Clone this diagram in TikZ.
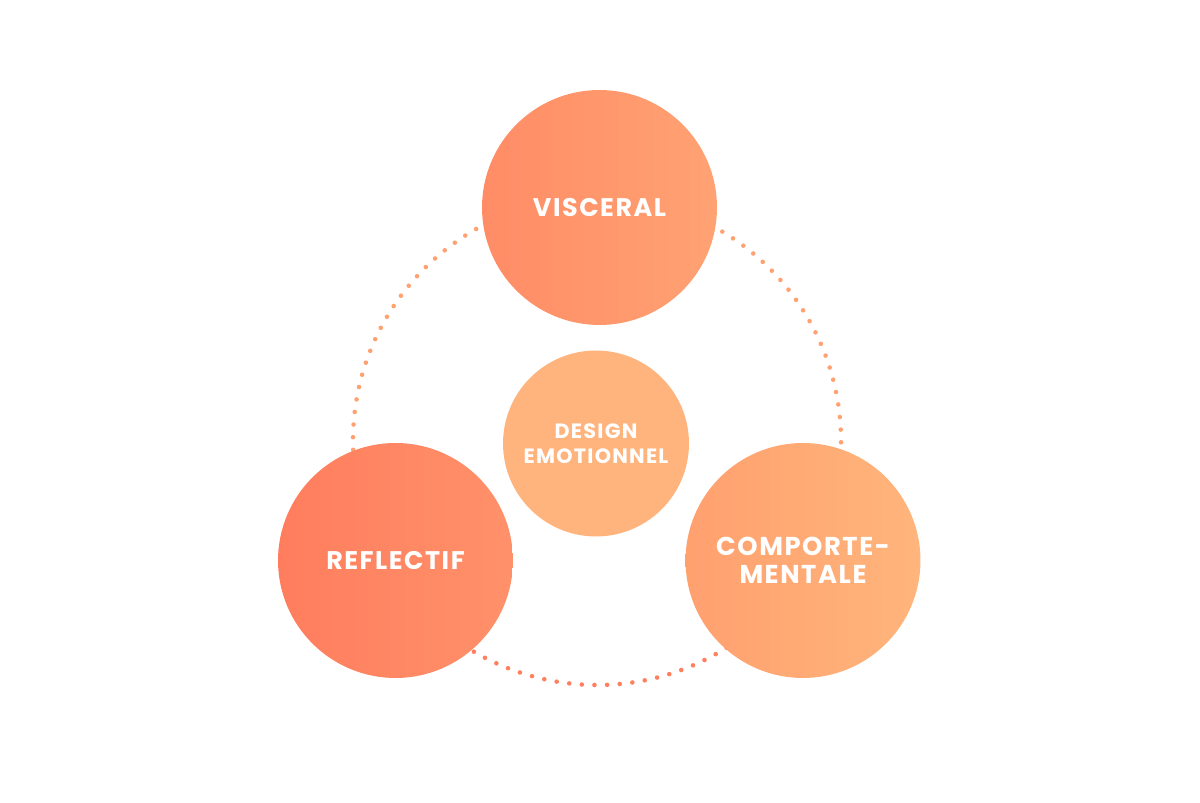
\documentclass[tikz,border=0pt]{standalone}
\usepackage{fontspec}
\setmainfont{Poppins}[LetterSpace=6]
\usetikzlibrary{positioning, calc}

\definecolor{viscL}{HTML}{FF8C66}
\definecolor{viscR}{HTML}{FFA273}
\definecolor{reflL}{HTML}{FF7D5E}
\definecolor{reflR}{HTML}{FF916A}
\definecolor{compL}{HTML}{FFA06F}
\definecolor{compR}{HTML}{FFB57C}
\definecolor{coreC}{HTML}{FFB47E}
\definecolor{dotLight}{HTML}{FFA170}
\definecolor{dotDark}{HTML}{FF7F5F}

\begin{document}
\begin{tikzpicture}[
    x=0.02cm, y=0.02cm,
    bubble/.style={circle, minimum size=4.7cm, inner sep=0pt, align=center, text=white, font=\bfseries\fontsize{14.5}{16}\selectfont},
    core/.style={circle, minimum size=3.72cm, inner sep=0pt, align=center, text=white, fill=coreC, font=\bfseries\fontsize{11.8}{14.2}\selectfont},
    ring/.style={line width=2.6pt, line cap=round, dash pattern=on 0pt off 7.2pt}
]

% Canvas
\useasboundingbox (0,0) rectangle (1200,803);

% Dotted ring behind the bubbles
\coordinate (ringc) at (597,362);
\draw[ring, dotLight] ($(ringc)+(90:244)$) arc[start angle=90, end angle=210, radius=244];
\draw[ring, dotDark] ($(ringc)+(210:244)$) arc[start angle=210, end angle=330, radius=244];
\draw[ring, dotLight] ($(ringc)+(330:244)$) arc[start angle=330, end angle=450, radius=244];

% Three levels
\node[bubble, left color=viscL, right color=viscR] (visceral) at (599.5,595.5) {VISCERAL};
\node[bubble, left color=reflL, right color=reflR] (reflectif) at (395.5,242.5) {REFLECTIF};
\node[bubble, left color=compL, right color=compR, font=\bfseries\fontsize{14.7}{15.6}\selectfont] (comport) at (803,242.5) {COMPORTE-\\MENTALE};

% Centre
\node[core] (design) at (596,359.5) {DESIGN\\EMOTIONNEL};

\end{tikzpicture}
\end{document}
